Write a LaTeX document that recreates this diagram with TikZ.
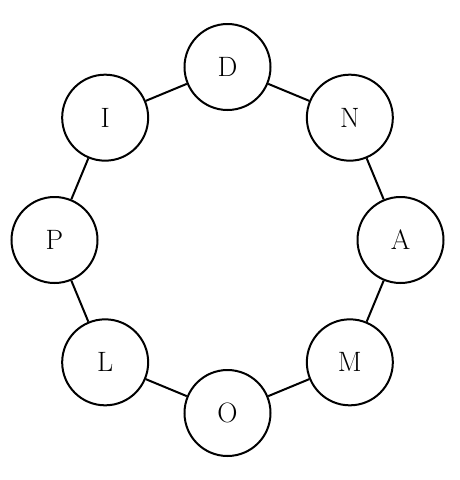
\documentclass[tikz,border=0pt]{standalone}
\usepackage{fontspec}
\usepackage{tikz}
\usetikzlibrary{calc}
\newcommand{\lblfont}{\fontsize{28}{33}\selectfont}
\begin{document}
\begin{tikzpicture}[x=1pt,y=1pt,
    letter/.style={draw,circle,line width=2pt,minimum size=86pt,inner sep=0pt,font=\lblfont},
    link/.style={line width=2pt}]

\useasboundingbox (0,0) rectangle (460,-480);

% ======================= ring of letters ===============================
\coordinate (ctr) at (227.5,-240);
\foreach \nm/\ang in {D/90,N/45,A/0,M/-45,O/-90,L/-135,P/180,I/135}
  \node[letter] (\nm) at ($(ctr)+(\ang:173)$) {\nm};

% ======================= links round the ring ==========================
\foreach \a/\b in {D/N,N/A,A/M,M/O,O/L,L/P,P/I,I/D}
  \draw[link] (\a) -- (\b);

\end{tikzpicture}
\end{document}
